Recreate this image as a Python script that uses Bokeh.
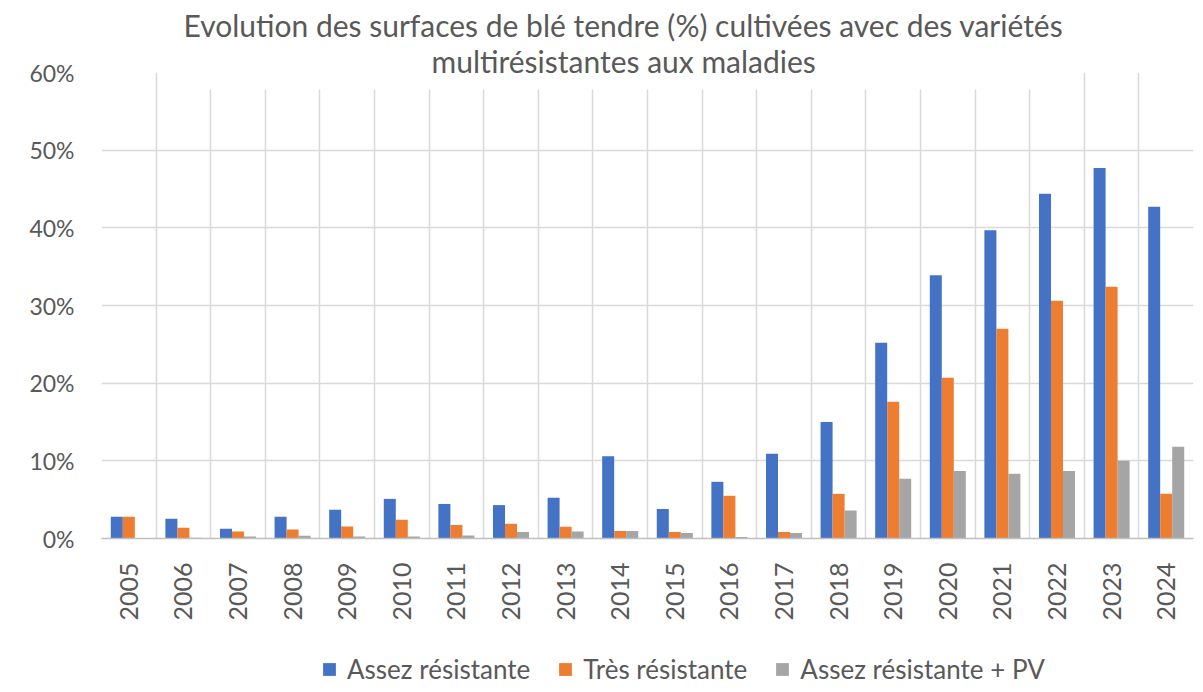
import math
from bokeh.plotting import figure
from bokeh.layouts import column
from bokeh.models import (ColumnDataSource, FactorRange, Range1d, Legend, LegendItem,
                          NumeralTickFormatter, FixedTicker, Title, BoxAnnotation)
from bokeh.transform import dodge
from bokeh.embed import file_html
from bokeh.resources import INLINE

# ---- data (percent of soft-wheat area) ----
years = [str(y) for y in range(2005, 2025)]
assez_resistante = [2.8, 2.55, 1.25, 2.8, 3.7, 5.1, 4.45, 4.3, 5.25, 10.6,
                    3.8, 7.3, 10.9, 15.0, 25.2, 33.9, 39.7, 44.4, 47.7, 42.7]
tres_resistante = [2.8, 1.4, 0.9, 1.15, 1.55, 2.4, 1.75, 1.9, 1.5, 0.95,
                   0.85, 5.5, 0.85, 5.75, 17.6, 20.7, 27.0, 30.6, 32.4, 5.75]
assez_resistante_pv = [0.0, 0.1, 0.25, 0.35, 0.25, 0.25, 0.4, 0.85, 0.9, 0.95,
                       0.7, 0.2, 0.7, 3.6, 7.7, 8.7, 8.35, 8.7, 10.0, 11.8]
series_labels = ["Assez résistante", "Très résistante", "Assez résistante + PV"]
y_ticks = [0, 0.1, 0.2, 0.3, 0.4, 0.5, 0.6]
title_line1 = "Evolution des surfaces de blé tendre (%) cultivées avec des variétés"
title_line2 = "multirésistantes aux maladies"

colors = ["#4472C4", "#ED7D31", "#A5A5A5"]
FONT = "Lato"
TXT = "#595959"
GRID = "#D9D9D9"

src = ColumnDataSource(dict(
    years=years,
    a=[v / 100 for v in assez_resistante],
    t=[v / 100 for v in tres_resistante],
    pv=[v / 100 for v in assez_resistante_pv],
))
cols = ["a", "t", "pv"]

p = figure(x_range=FactorRange(*years, range_padding=0), y_range=Range1d(0, 0.6),
           frame_width=1092, frame_height=466, output_backend="svg", toolbar_location=None,
           min_border_left=101, min_border_right=6, min_border_top=70, min_border_bottom=100)
p.outline_line_color = None
p.background_fill_color = "white"
p.border_fill_color = "white"

bw = 0.22
for k, (col, c) in enumerate(zip(cols, colors)):
    p.vbar(x=dodge("years", (k - 1) * bw, range=p.x_range), top=col, width=bw,
           source=src, fill_color=c, line_color=None)

# grids
p.ygrid.ticker = FixedTicker(ticks=y_ticks)
p.ygrid.grid_line_color = GRID
p.ygrid.grid_line_width = 1.5
p.xgrid.ticker = FixedTicker(ticks=list(range(len(years) + 1)))
p.xgrid.grid_line_color = GRID
p.xgrid.grid_line_width = 1.5

# axes
p.yaxis.ticker = FixedTicker(ticks=y_ticks)
p.yaxis.formatter = NumeralTickFormatter(format="0%")
p.yaxis.axis_line_color = None
p.yaxis.major_tick_line_color = None
p.yaxis.minor_tick_line_color = None
p.yaxis.major_tick_out = 0
p.yaxis.major_label_standoff = 27
p.yaxis.major_label_text_font = FONT
p.yaxis.major_label_text_font_size = "23px"
p.yaxis.major_label_text_color = TXT

p.xaxis.axis_line_color = "#BFBFBF"
p.xaxis.axis_line_width = 1.5
p.xaxis.major_tick_line_color = None
p.xaxis.minor_tick_line_color = None
p.xaxis.major_tick_out = 0
p.xaxis.major_label_standoff = 24
p.xaxis.major_label_orientation = math.pi / 2
p.xaxis.major_label_text_font = FONT
p.xaxis.major_label_text_font_size = "25px"
p.xaxis.major_label_text_color = TXT

# white box behind the title (hides the grid there, like the original)
p.add_layout(BoxAnnotation(left=75, right=966, bottom=449, top=470,
                           left_units="screen", right_units="screen",
                           top_units="screen", bottom_units="screen",
                           fill_color="white", fill_alpha=1.0, line_color=None,
                           level="underlay"))

# title: two single-line titles, the second one nearest to the frame
p.add_layout(Title(text=title_line2, align="left", offset=330, standoff=-12,
                   text_font=FONT, text_font_size="30px", text_font_style="normal",
                   text_color=TXT), "above")
p.add_layout(Title(text=title_line1, align="left", offset=82, standoff=8,
                   text_font=FONT, text_font_size="30px", text_font_style="normal",
                   text_color=TXT), "above")

# ---- legend strip below the chart (its bars lie outside its visible range) ----
leg = figure(width=1199, height=50, x_range=FactorRange(*years), y_range=Range1d(10, 11),
             x_axis_type=None, y_axis_type=None, output_backend="svg",
             toolbar_location=None, min_border=0)
leg.outline_line_color = None
leg.xgrid.visible = False
leg.ygrid.visible = False
leg.background_fill_color = "white"
leg.border_fill_color = "white"
lr = [leg.vbar(x="years", top=col, width=bw, source=src, fill_color=c, line_color=None)
      for col, c in zip(cols, colors)]
legend = Legend(items=[LegendItem(label=lab, renderers=[r]) for lab, r in zip(series_labels, lr)],
                orientation="horizontal", location=(220, 3),
                border_line_color=None, background_fill_alpha=0,
                label_text_font=FONT, label_text_font_size="26px", label_text_color=TXT,
                glyph_width=16, glyph_height=16, label_standoff=10, spacing=27,
                padding=0, margin=0)
leg.add_layout(legend, "center")

layout = column(p, leg, spacing=0)
open("out.html", "w").write(file_html(layout, INLINE))
